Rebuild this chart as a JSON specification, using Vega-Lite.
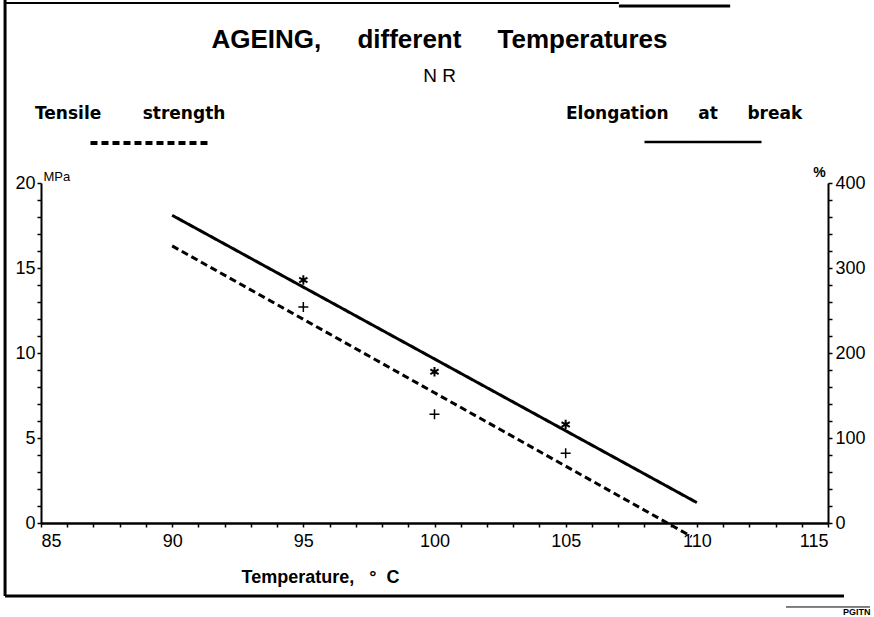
{
  "$schema": "https://vega.github.io/schema/vega-lite/v6.json",
  "width": 787,
  "height": 340,
  "autosize": {"type": "none"},
  "padding": {"left": 41, "top": 183, "right": 46, "bottom": 94},
  "background": "white",
  "config": {
    "view": {"stroke": null},
    "axis": {"labelFont": "Liberation Sans", "labelColor": "black", "tickColor": "black", "domainColor": "black", "grid": false, "labelOverlap": false},
    "legend": {"padding": 0}
  },
  "title": {
    "text": "AGEING,\u00a0\u00a0\u00a0\u00a0\u00a0different\u00a0\u00a0\u00a0\u00a0\u00a0Temperatures",
    "subtitle": "N R",
    "font": "Liberation Sans, sans-serif",
    "fontSize": 26,
    "fontWeight": "bold",
    "color": "black",
    "subtitleFont": "Liberation Sans, sans-serif",
    "subtitleFontSize": 19,
    "subtitleFontWeight": "normal",
    "subtitleColor": "black",
    "subtitlePadding": 14,
    "anchor": "middle",
    "frame": "group",
    "dx": 5,
    "offset": -87
  },
  "datasets": {
    "tensile_fit": [
      {"temperature": 90, "tensile_mpa": 16.3, "series": "Tensile strength"},
      {"temperature": 109.8, "tensile_mpa": -0.8, "series": "Tensile strength"}
    ],
    "tensile_obs": [
      {"temperature": 95, "tensile_mpa": 12.7},
      {"temperature": 100, "tensile_mpa": 6.4},
      {"temperature": 105, "tensile_mpa": 4.1}
    ],
    "elong_fit": [
      {"temperature": 90, "elongation_pct": 362, "series": "Elongation at break"},
      {"temperature": 110, "elongation_pct": 24, "series": "Elongation at break"}
    ],
    "elong_obs": [
      {"temperature": 95, "elongation_pct": 286},
      {"temperature": 100, "elongation_pct": 178},
      {"temperature": 105, "elongation_pct": 116}
    ],
    "one": [{}]
  },
  "layer": [
    {
      "data": {"name": "tensile_fit"},
      "mark": {"type": "line", "color": "black", "strokeWidth": 3},
      "encoding": {
        "x": {
          "field": "temperature", "type": "quantitative",
          "scale": {"domain": [85, 115], "nice": false, "zero": false},
          "axis": {
            "orient": "bottom",
            "values": [85, 86, 87, 88, 89, 90, 91, 92, 93, 94, 95, 96, 97, 98, 99, 100, 101, 102, 103, 104, 105, 106, 107, 108, 109, 110, 111, 112, 113, 114, 115],
            "labelExpr": "datum.value % 5 === 0 ? datum.label : ''",
            "tickSize": 4, "tickWidth": 1.5, "domainWidth": 2.5,
            "labelFontSize": 18, "labelPadding": 5,
            "title": "Temperature,\u00a0\u00a0\u00a0\u00b0\u00a0\u00a0C",
            "titleFont": "Liberation Sans", "titleFontSize": 18, "titleFontWeight": "bold", "titleColor": "black",
            "titleX": 279, "titleY": 59, "titleAlign": "center", "titleBaseline": "alphabetic", "titleAnchor": null
          }
        },
        "y": {
          "field": "tensile_mpa", "type": "quantitative",
          "scale": {"domain": [0, 20], "nice": false, "zero": false},
          "axis": {
            "orient": "left",
            "values": [0, 1, 2, 3, 4, 5, 6, 7, 8, 9, 10, 11, 12, 13, 14, 15, 16, 17, 18, 19, 20],
            "labelExpr": "datum.value % 5 === 0 ? datum.label : ''",
            "tickSize": 4, "tickWidth": 1.5, "domainWidth": 2,
            "labelFontSize": 18, "labelPadding": 2,
            "title": "MPa", "titleAngle": 0, "titleX": 2, "titleY": -3,
            "titleAlign": "left", "titleBaseline": "alphabetic",
            "titleFont": "Liberation Sans, sans-serif", "titleFontSize": 13, "titleFontWeight": "normal", "titleColor": "black"
          }
        },
        "strokeDash": {
          "field": "series", "type": "nominal",
          "scale": {"domain": ["Tensile strength"], "range": [[7, 4]]},
          "legend": {
            "orient": "none", "legendX": -6, "legendY": -77,
            "title": "Tensile\u00a0\u00a0\u00a0\u00a0\u00a0\u00a0\u00a0strength",
            "titleFont": "DejaVu Sans", "titleFontSize": 17, "titleFontWeight": "bold", "titleColor": "black",
            "titlePadding": 6, "titleLimit": 400,
            "symbolType": "M-5,0H5", "symbolSize": 548, "symbolStrokeWidth": 4,
            "symbolStrokeColor": "black", "symbolOffset": 100,
            "labelExpr": "''", "labelFontSize": 1
          }
        }
      }
    },
    {
      "data": {"name": "tensile_obs"},
      "mark": {"type": "point", "shape": "M-1,0H1M0,-1V1", "filled": false, "color": "black", "strokeWidth": 1.5, "size": 100, "opacity": 1},
      "encoding": {
        "x": {"field": "temperature", "type": "quantitative", "scale": {"domain": [85, 115], "nice": false, "zero": false}, "axis": null},
        "y": {"field": "tensile_mpa", "type": "quantitative", "scale": {"domain": [0, 20], "nice": false, "zero": false}, "axis": null}
      }
    },
    {
      "data": {"name": "elong_fit"},
      "mark": {"type": "line", "color": "black", "strokeWidth": 3},
      "encoding": {
        "x": {"field": "temperature", "type": "quantitative", "scale": {"domain": [85, 115], "nice": false, "zero": false}, "axis": null},
        "y": {
          "field": "elongation_pct", "type": "quantitative",
          "scale": {"domain": [0, 400], "nice": false, "zero": false},
          "axis": {
            "orient": "right",
            "values": [0, 20, 40, 60, 80, 100, 120, 140, 160, 180, 200, 220, 240, 260, 280, 300, 320, 340, 360, 380, 400],
            "labelExpr": "datum.value % 100 === 0 ? datum.label : ''",
            "tickSize": 4, "tickWidth": 1.5, "domainWidth": 2,
            "labelFontSize": 18, "labelPadding": 3,
            "title": "%", "titleAngle": 0, "titleX": -9, "titleY": -7,
            "titleAlign": "center", "titleBaseline": "alphabetic",
            "titleFont": "Liberation Sans", "titleFontSize": 14, "titleFontWeight": "bold", "titleColor": "black"
          }
        },
        "strokeDash": {
          "field": "series", "type": "nominal",
          "scale": {"domain": ["Elongation at break"], "range": [[1, 0]]},
          "legend": {
            "orient": "none", "legendX": 525, "legendY": -77,
            "title": "Elongation\u00a0\u00a0\u00a0\u00a0\u00a0at\u00a0\u00a0\u00a0\u00a0\u00a0break",
            "titleFont": "DejaVu Sans", "titleFontSize": 17, "titleFontWeight": "bold", "titleColor": "black",
            "titlePadding": 6, "titleLimit": 400,
            "symbolType": "M-5,0H5", "symbolSize": 548, "symbolStrokeWidth": 2.5,
            "symbolStrokeColor": "black", "symbolOffset": 124,
            "labelExpr": "''", "labelFontSize": 1
          }
        }
      }
    },
    {
      "data": {"name": "elong_obs"},
      "mark": {"type": "point", "shape": "M0,-1V1M-0.87,-0.5L0.87,0.5M-0.87,0.5L0.87,-0.5", "filled": false, "color": "black", "strokeWidth": 2, "size": 90, "opacity": 1},
      "encoding": {
        "x": {"field": "temperature", "type": "quantitative", "scale": {"domain": [85, 115], "nice": false, "zero": false}, "axis": null},
        "y": {"field": "elongation_pct", "type": "quantitative", "scale": {"domain": [0, 400], "nice": false, "zero": false}, "axis": null}
      }
    },
    {
      "data": {"name": "one"},
      "mark": {"type": "rule", "color": "black", "strokeWidth": 3},
      "encoding": {
        "x": {"datum": 83.63, "type": "quantitative", "scale": {"domain": [85, 115], "nice": false, "zero": false}, "axis": null},
        "y": {"datum": 30.76, "type": "quantitative", "scale": {"domain": [0, 20], "nice": false, "zero": false}, "axis": null},
        "y2": {"datum": -4.29}
      }
    },
    {
      "data": {"name": "one"},
      "mark": {"type": "rule", "color": "black", "strokeWidth": 3},
      "encoding": {
        "x": {"datum": 83.63, "type": "quantitative", "scale": {"domain": [85, 115], "nice": false, "zero": false}, "axis": null},
        "x2": {"datum": 115.61},
        "y": {"datum": -4.29, "type": "quantitative", "scale": {"domain": [0, 20], "nice": false, "zero": false}, "axis": null}
      }
    },
    {
      "data": {"name": "one"},
      "mark": {"type": "rule", "color": "black", "strokeWidth": 2},
      "encoding": {
        "x": {"datum": 83.63, "type": "quantitative", "scale": {"domain": [85, 115], "nice": false, "zero": false}, "axis": null},
        "x2": {"datum": 107.03},
        "y": {"datum": 30.59, "type": "quantitative", "scale": {"domain": [0, 20], "nice": false, "zero": false}, "axis": null}
      }
    },
    {
      "data": {"name": "one"},
      "mark": {"type": "rule", "color": "black", "strokeWidth": 3},
      "encoding": {
        "x": {"datum": 107.03, "type": "quantitative", "scale": {"domain": [85, 115], "nice": false, "zero": false}, "axis": null},
        "x2": {"datum": 111.27},
        "y": {"datum": 30.41, "type": "quantitative", "scale": {"domain": [0, 20], "nice": false, "zero": false}, "axis": null}
      }
    },
    {
      "data": {"name": "one"},
      "mark": {"type": "rule", "color": "black", "strokeWidth": 1},
      "encoding": {
        "x": {"datum": 113.4, "type": "quantitative", "scale": {"domain": [85, 115], "nice": false, "zero": false}, "axis": null},
        "x2": {"datum": 116.6},
        "y": {"datum": -4.94, "type": "quantitative", "scale": {"domain": [0, 20], "nice": false, "zero": false}, "axis": null}
      }
    },
    {
      "data": {"name": "one"},
      "mark": {"type": "text", "text": "PGITN", "font": "Liberation Sans", "fontSize": 9, "fontWeight": "bold", "color": "black", "align": "center", "baseline": "alphabetic"},
      "encoding": {
        "x": {"datum": 116.1, "type": "quantitative", "scale": {"domain": [85, 115], "nice": false, "zero": false}, "axis": null},
        "y": {"datum": -5.41, "type": "quantitative", "scale": {"domain": [0, 20], "nice": false, "zero": false}, "axis": null}
      }
    }
  ],
  "resolve": {
    "scale": {"x": "independent", "y": "independent", "strokeDash": "independent"},
    "legend": {"strokeDash": "independent"}
  }
}
